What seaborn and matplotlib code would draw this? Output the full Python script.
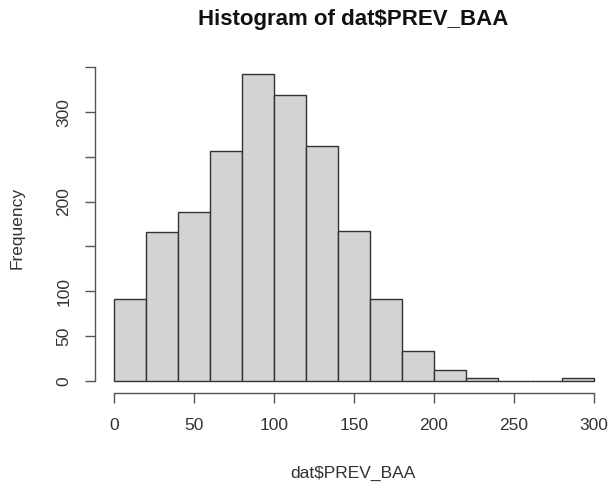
import numpy as np
import matplotlib
matplotlib.use("Agg")
import matplotlib.pyplot as plt
import seaborn as sns

# histogram of dat$PREV_BAA, bins of width 20
bin_edges = [0, 20, 40, 60, 80, 100, 120, 140, 160, 180, 200, 220, 240, 260, 280, 300]
counts = [91, 166, 188, 256, 342, 319, 262, 167, 91, 33, 12, 3, 0, 0, 3]
x_ticks = [0, 50, 100, 150, 200, 250, 300]
y_ticks = [0, 50, 100, 150, 200, 250, 300, 350]
y_tick_labels = ["0", "50", "100", "", "200", "", "300", ""]

sns.set_style("white")
plt.rcParams["font.family"] = ["Liberation Sans", "DejaVu Sans"]

W, H = 609, 487
fig = plt.figure(figsize=(W / 100, H / 100), dpi=100)

# R-style plot region: xlim/ylim padded by 4%
xmin, xmax = -12, 312
ymax = max(counts) * 1.04
ymin = -max(counts) * 0.04
left_px, right_px = 95.1, 613.0
top_px, bottom_px = 62.2, 393.0
ax = fig.add_axes([left_px / W, 1 - bottom_px / H,
                   (right_px - left_px) / W, (bottom_px - top_px) / H])

mids = [(a + b) / 2 for a, b in zip(bin_edges[:-1], bin_edges[1:])]
sns.histplot(x=mids, weights=counts, bins=bin_edges, color="#d3d3d3",
             edgecolor="#333333", linewidth=1.0, alpha=1, ax=ax)

ax.set_xlim(xmin, xmax)
ax.set_ylim(ymin, ymax)

for s in ["top", "right"]:
    ax.spines[s].set_visible(False)
for s in ["left", "bottom"]:
    ax.spines[s].set_color("#555555")
    ax.spines[s].set_linewidth(1.0)
ax.spines["bottom"].set_bounds(0, 300)
ax.spines["left"].set_bounds(0, 350)

ax.set_xticks(x_ticks)
ax.set_xticklabels([str(t) for t in x_ticks])
ax.set_yticks(y_ticks)
ax.set_yticklabels(y_tick_labels, rotation=90, va="center")
ax.tick_params(axis="both", bottom=True, left=True, length=7.2, width=1.0,
               color="#555555", labelsize=12.5, labelcolor="#333333",
               direction="out")
ax.tick_params(axis="x", pad=11)
ax.tick_params(axis="y", pad=10)
ax.set_xlabel("")
ax.set_ylabel("")

fig.text(353 / W, 1 - 20 / H, "Histogram of dat$PREV_BAA", ha="center",
         va="center", fontsize=16, fontweight="bold", color="#111111")
fig.text(353 / W, 1 - 473 / H, "dat$PREV_BAA", ha="center", va="center",
         fontsize=12.5, color="#333333")
fig.text(17 / W, 1 - 227.5 / H, "Frequency", ha="center", va="center",
         rotation=90, fontsize=12.5, color="#333333")

fig.savefig("out.png", dpi=100)
